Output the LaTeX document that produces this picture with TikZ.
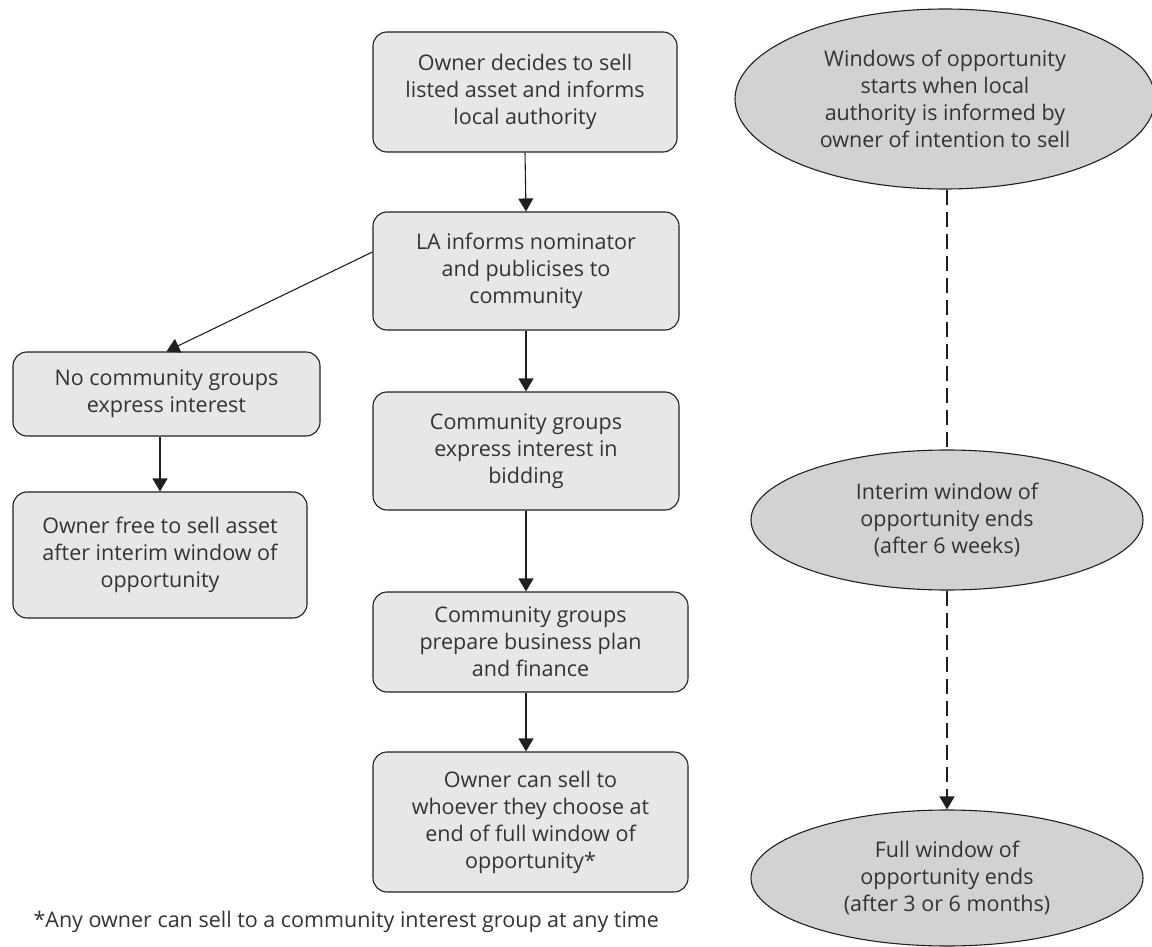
\documentclass[tikz,border=0pt]{standalone}
\usepackage{fontspec}
\setmainfont{Open Sans}
\usepackage{tikz}
\usetikzlibrary{arrows.meta,shapes.geometric}
\definecolor{boxgray}{HTML}{E6E7E8}
\definecolor{ellgray}{HTML}{D1D2D4}
\definecolor{linegray}{HTML}{231F20}
\definecolor{txtgray}{HTML}{333333}

\begin{document}
\begin{tikzpicture}[x=1pt,y=-1pt,
        every node/.style={font=\fontsize{21.5}{27}\selectfont,text=txtgray,align=center},
        stage/.style={draw=linegray,line width=1.1pt,rounded corners=14pt,fill=boxgray,inner sep=0pt},
        window/.style={draw=linegray,line width=1.1pt,ellipse,fill=ellgray,inner sep=0pt},
        flow/.style={draw=linegray,line width=1.1pt,-{Triangle[width=15pt,length=13pt]}},
        gap/.style={draw=linegray,line width=1.1pt,dash pattern=on 15pt off 7pt}]
        \useasboundingbox (0,0) rectangle (1152,947);

        \node[stage,minimum width=304pt,minimum height=120pt] (decide) at (525,92) {Owner decides to sell\\listed asset and informs\\local authority};
        \node[stage,minimum width=306pt,minimum height=118pt] (inform) at (526,271) {LA informs nominator\\and publicises to\\community};
        \node[stage,minimum width=306pt,minimum height=118pt] (express) at (526,451) {Community groups\\express interest in\\bidding};
        \node[stage,minimum width=315pt,minimum height=100pt] (prepare) at (530.5,642) {Community groups\\prepare business plan\\and finance};
        \node[stage,minimum width=315pt,minimum height=140pt] (sellend) at (530.5,822) {Owner can sell to\\whoever they choose at\\end of full window of\\opportunity*};

        \node[stage,minimum width=307pt,minimum height=84pt] (nointerest) at (166.5,394) {No community groups\\express interest};
        \node[stage,minimum width=294pt,minimum height=126pt] (sellfree) at (160,555) {Owner free to sell asset\\after interim window of\\opportunity};

        \node[window,minimum width=420pt,minimum height=180pt] (wstart) at (945,99) {Windows of opportunity\\starts when local\\authority is informed by\\owner of intention to sell};
        \node[window,minimum width=392pt,minimum height=140pt] (winterim) at (947,520) {Interim window of\\opportunity ends\\(after 6 weeks)};
        \node[window,minimum width=392pt,minimum height=136pt] (wfull) at (947,878) {Full window of\\opportunity ends\\(after 3 or 6 months)};

        \node[anchor=west] (note) at (30,922) {*Any owner can sell to a community interest group at any time};

        \draw[flow] (decide.south) -- (inform.north);
        \draw[flow] (inform.south) -- (express.north);
        \draw[flow] (express.south) -- (express.south |- prepare.north);
        \draw[flow] (express.south |- prepare.south) -- (express.south |- sellend.north);
        \draw[flow] ([yshift=19pt]inform.west) -- (nointerest.north);
        \draw[flow] (nointerest.south -| sellfree.north) -- (sellfree.north);

        \draw[gap] (winterim.north |- wstart.south) -- (winterim.north);
        \draw[gap,-{Triangle[width=15pt,length=13pt]}] (winterim.south) -- (wfull.north);
    \end{tikzpicture}
\end{document}
